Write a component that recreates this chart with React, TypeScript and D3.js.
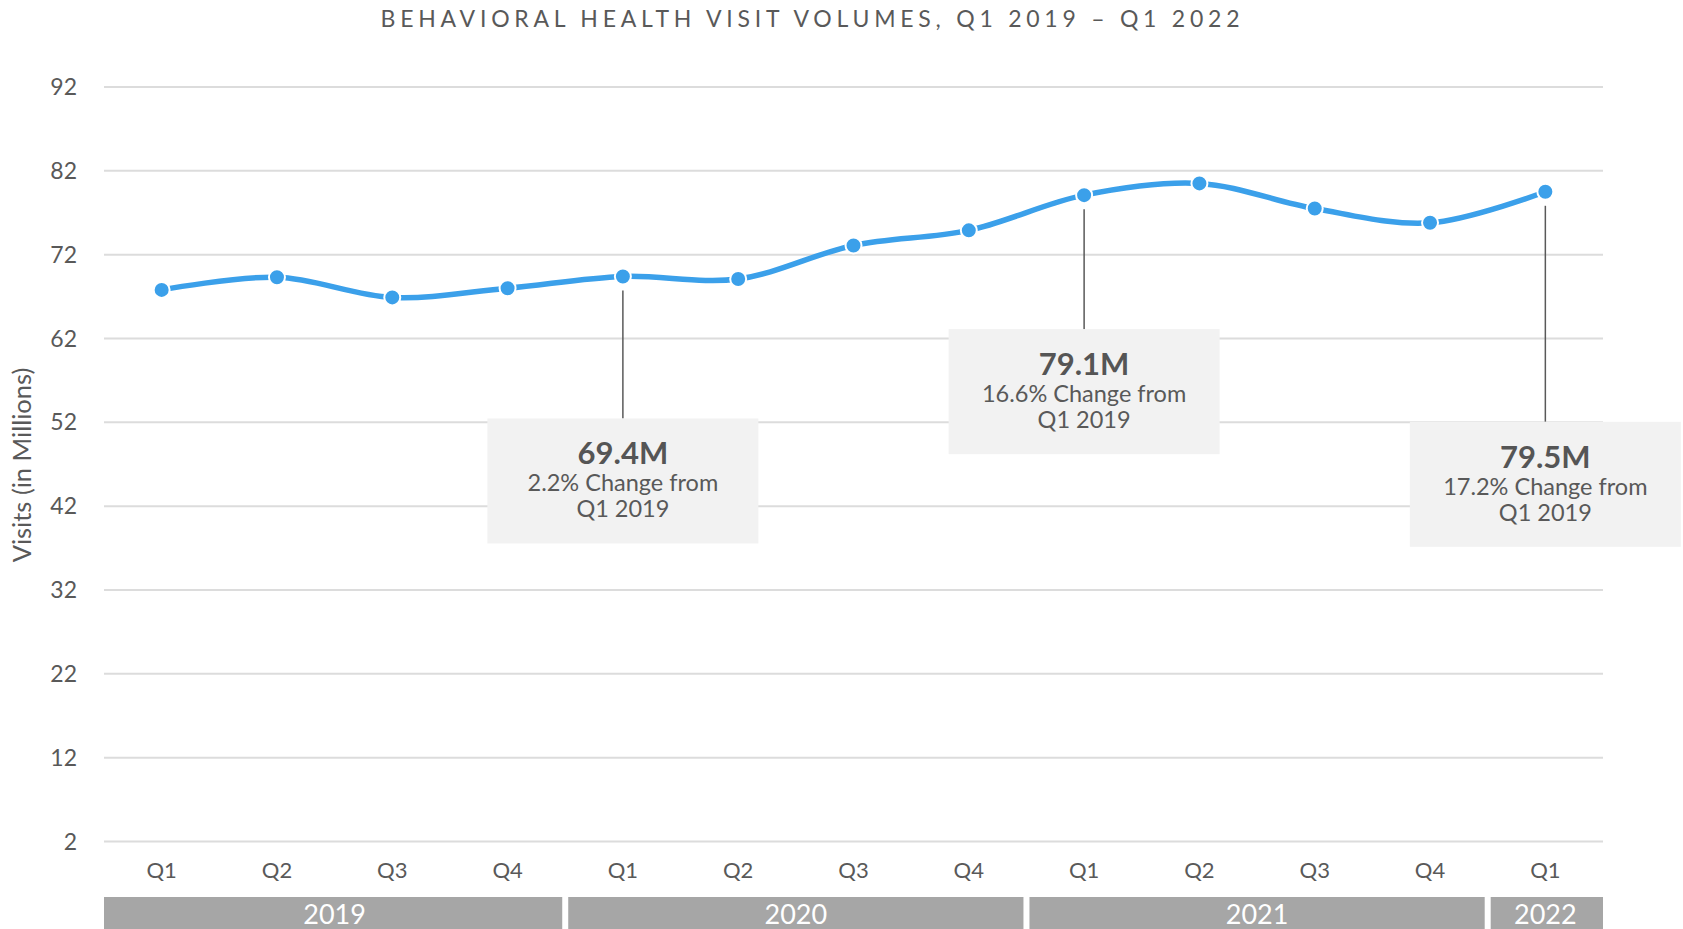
import React, { useEffect } from 'react';
import * as d3 from 'd3';

const quarters = ['Q1', 'Q2', 'Q3', 'Q4', 'Q1', 'Q2', 'Q3', 'Q4', 'Q1', 'Q2', 'Q3', 'Q4', 'Q1'];
const pointYears = ['2019', '2019', '2019', '2019', '2020', '2020', '2020', '2020', '2021', '2021', '2021', '2021', '2022'];
const visits = [67.8, 69.3, 66.9, 68.0, 69.4, 69.1, 73.1, 74.9, 79.1, 80.5, 77.5, 75.8, 79.5];
const yearLabels = ['2019', '2020', '2021', '2022'];
const yTicks = [2, 12, 22, 32, 42, 52, 62, 72, 82, 92];
const annotIndex = [4, 8, 12];
const annotValue = ['69.4M', '79.1M', '79.5M'];
const annotChange = ['2.2% Change from', '16.6% Change from', '17.2% Change from'];
const annotBase = ['Q1 2019', 'Q1 2019', 'Q1 2019'];

const W = 1683;
const H = 929;
const left = 104;
const right = 1603;
const FONT = 'Lato, "Open Sans", sans-serif';
const TEXT = '#595959';
const BLUE = '#3ba0ea';
const boxTopOffset = [142, 134, 230];
const BOX_W = 271;
const BOX_H = 125;

export default function App() {
  useEffect(() => {
    document.body.style.margin = '0';
    document.body.style.overflow = 'hidden';
  }, []);

  const keys = quarters.map((q, i) => `${pointYears[i]}-${q}`);
  const x = d3.scaleBand<string>().domain(keys).range([left, right]);
  const bw = x.bandwidth();
  const cx = (i: number) => (x(keys[i]) as number) + bw / 2;
  const y = d3.scaleLinear().domain([2, 92]).range([841.5, 87]);

  const line = d3
    .line<number>()
    .x((_, i) => cx(i))
    .y((d) => y(d))
    .curve(d3.curveCatmullRom.alpha(0.5));

  const yearSpans = yearLabels.map((yr) => {
    const idx = pointYears.map((p, i) => (p === yr ? i : -1)).filter((i) => i >= 0);
    const x0 = x(keys[idx[0]]) as number;
    const x1 = (x(keys[idx[idx.length - 1]]) as number) + bw;
    return { yr, x0, x1 };
  });

  return (
    <svg width={W} height={H} style={{ position: 'absolute', left: 0, top: 0, background: '#fff' }}>
      <text
        x={810}
        y={27}
        textAnchor="middle"
        fontFamily={FONT}
        fontSize={23}
        fill={TEXT}
        textLength={859}
        lengthAdjust="spacing"
      >
        BEHAVIORAL HEALTH VISIT VOLUMES, Q1 2019 – Q1 2022
      </text>

      {yTicks.map((t) => (
        <g key={t}>
          <line x1={left} x2={right} y1={y(t)} y2={y(t)} stroke="#dcdcdc" strokeWidth={2} />
          <text x={77} y={y(t) + 8} textAnchor="end" fontFamily={FONT} fontSize={23} fill={TEXT}>
            {t}
          </text>
        </g>
      ))}

      <text
        transform={`translate(31,465) rotate(-90)`}
        textAnchor="middle"
        fontFamily={FONT}
        fontSize={25.5}
        fill={TEXT}
      >
        Visits (in Millions)
      </text>

      {quarters.map((q, i) => (
        <text key={i} x={cx(i)} y={878} textAnchor="middle" fontFamily={FONT} fontSize={22} fill={TEXT}>
          {q}
        </text>
      ))}

      {yearSpans.map((s, i) => (
        <g key={s.yr}>
          <rect
            x={s.x0 + (i === 0 ? 0 : 3)}
            y={897}
            width={s.x1 - s.x0 - (i === 0 ? 0 : 3) - (i === yearSpans.length - 1 ? 0 : 3)}
            height={40}
            fill="#a6a6a6"
          />
          <text x={(s.x0 + s.x1) / 2} y={924} textAnchor="middle" fontFamily={FONT} fontSize={27} fill="#fff">
            {s.yr}
          </text>
        </g>
      ))}

      <path d={line(visits) || ''} fill="none" stroke={BLUE} strokeWidth={5.5} strokeLinecap="round" />
      {visits.map((v, i) => (
        <circle key={i} cx={cx(i)} cy={y(v)} r={8} fill={BLUE} stroke="#fff" strokeWidth={2} />
      ))}

      {annotIndex.map((idx, k) => {
        const px = cx(idx);
        const py = y(visits[idx]);
        const top = py + boxTopOffset[k];
        return (
          <g key={k}>
            <line x1={px} x2={px} y1={py + 14} y2={top} stroke="#595959" strokeWidth={1.5} />
            <rect x={px - BOX_W / 2} y={top} width={BOX_W} height={BOX_H} fill="#f2f2f2" />
            <text x={px} y={top + 46} textAnchor="middle" fontFamily={FONT} fontWeight={700} fontSize={31} fill="#555">
              {annotValue[k]}
            </text>
            <text x={px} y={top + 73} textAnchor="middle" fontFamily={FONT} fontSize={23.5} fill={TEXT}>
              {annotChange[k]}
            </text>
            <text x={px} y={top + 99} textAnchor="middle" fontFamily={FONT} fontSize={23.5} fill={TEXT}>
              {annotBase[k]}
            </text>
          </g>
        );
      })}
    </svg>
  );
}
